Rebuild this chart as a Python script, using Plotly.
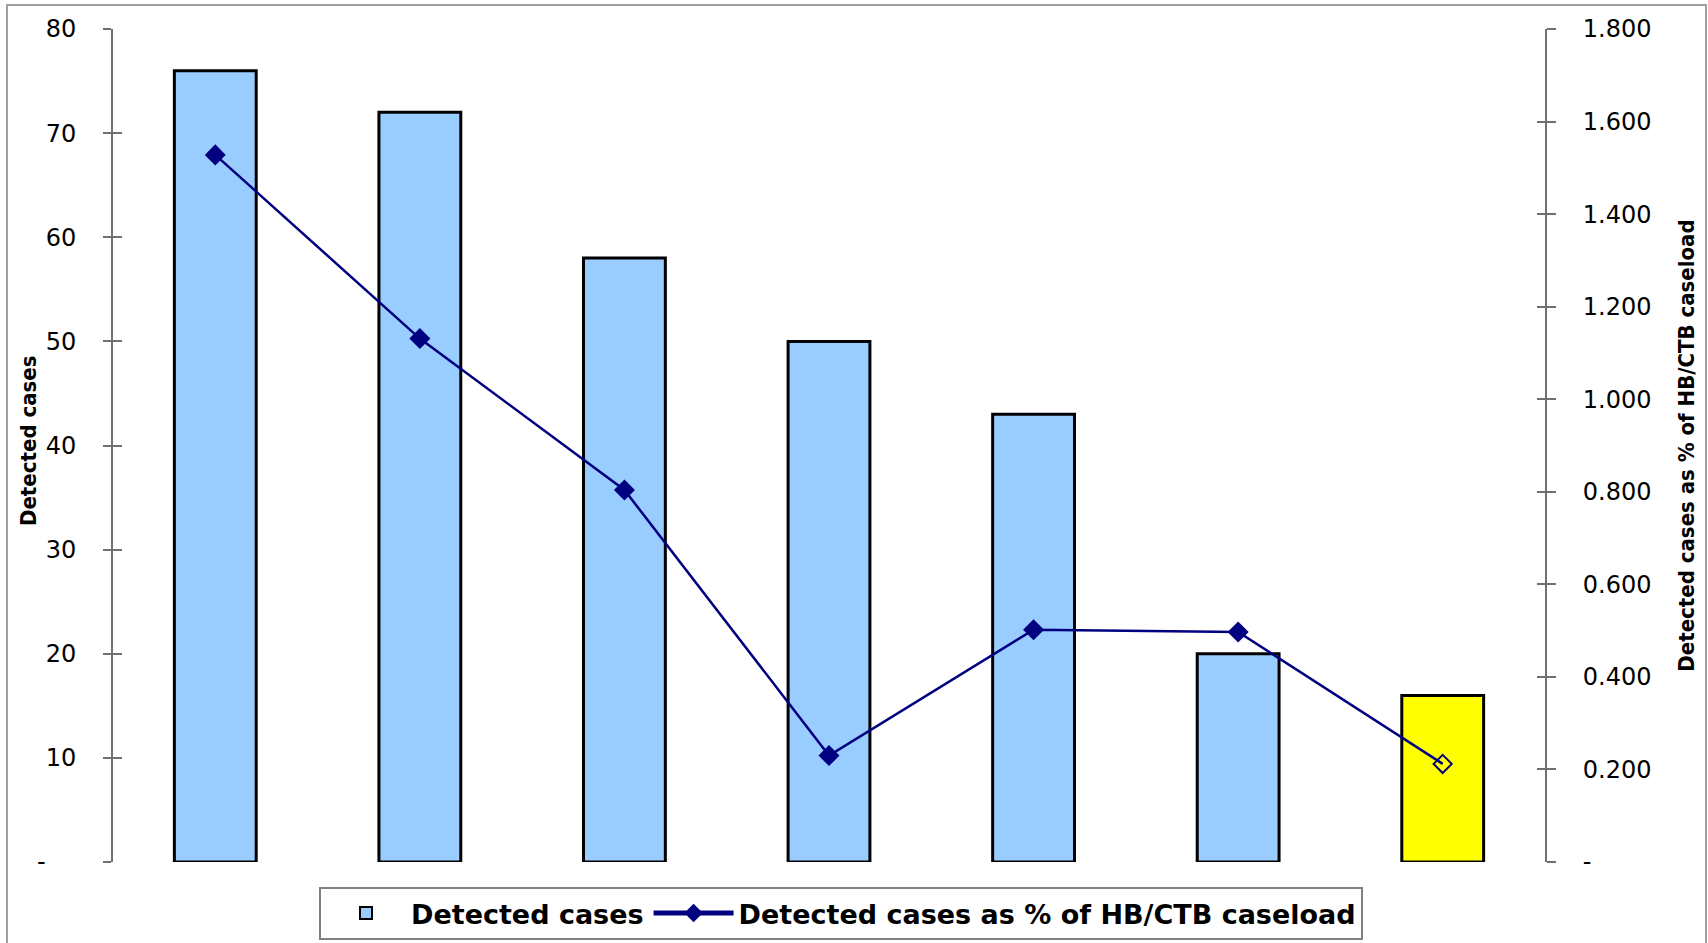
import plotly.graph_objects as go

# ---- data ----
categories = ["1", "2", "3", "4", "5", "6", "7"]
detected_cases = [76, 72, 58, 50, 43, 20, 16]
pct_caseload = [1.528, 1.131, 0.804, 0.230, 0.502, 0.497, 0.212]
bar_colors = ["#99CCFF"] * 6 + ["#FFFF00"]
marker_symbols = ["diamond"] * 6 + ["diamond-open"]

left_tickvals = [0, 10, 20, 30, 40, 50, 60, 70, 80]
left_ticktext = ["-\u00a0\u00a0\u00a0\u00a0", "10", "20", "30", "40", "50", "60", "70", "80"]
right_tickvals = [0, 0.2, 0.4, 0.6, 0.8, 1.0, 1.2, 1.4, 1.6, 1.8]
right_ticktext = ["-", "0.200", "0.400", "0.600", "0.800", "1.000", "1.200", "1.400", "1.600", "1.800"]

series_names = ["Detected cases", "Detected cases as % of HB/CTB caseload"]
left_title = "Detected cases"
right_title = "Detected cases as % of HB/CTB caseload"

NAVY = "#000080"
AXIS_GRAY = "#707070"
TICK_FONT = dict(family="DejaVu Sans, Verdana, sans-serif", size=24, color="black")
TITLE_FONT = dict(family="DejaVu Sans Condensed, Liberation Sans Narrow, Arial Narrow, sans-serif",
                  size=22, color="black", weight="bold")

fig = go.Figure()

fig.add_trace(go.Bar(
    x=categories, y=detected_cases, name=series_names[0],
    marker=dict(color=bar_colors, line=dict(color="black", width=3)),
    yaxis="y", hoverinfo="y",
))

fig.add_trace(go.Scatter(
    x=categories, y=pct_caseload, name=series_names[1],
    mode="lines+markers", yaxis="y2",
    line=dict(color=NAVY, width=2.5),
    marker=dict(symbol=marker_symbols, size=14, color=NAVY, line=dict(color=NAVY, width=2)),
))

# invisible helper traces so the overlay axes (inner half of cross ticks) are drawn
fig.add_trace(go.Scatter(x=categories, y=detected_cases, yaxis="y3", mode="markers",
                         marker=dict(opacity=0), showlegend=False, hoverinfo="skip"))
fig.add_trace(go.Scatter(x=categories, y=pct_caseload, yaxis="y4", mode="markers",
                         marker=dict(opacity=0), showlegend=False, hoverinfo="skip"))

W, H = 1708, 943
L, R, T, B = 113, 163, 29, 81
pw, ph = W - L - R, H - T - B

fig.update_layout(
    width=W, height=H,
    margin=dict(l=L, r=R, t=T, b=B, pad=0, autoexpand=False),
    paper_bgcolor="white", plot_bgcolor="white",
    bargap=0.6,
    showlegend=True,
    legend=dict(
        orientation="h", x=(841 - L) / pw, xanchor="center",
        y=-(887 - (T + ph)) / ph, yanchor="top",
        bordercolor="#808080", borderwidth=2, bgcolor="white",
        font=dict(family="DejaVu Sans, Verdana, sans-serif", size=27, color="black", weight="bold"),
        itemsizing="constant", itemwidth=80,
    ),
    xaxis=dict(
        type="category", showticklabels=False, ticks="", showline=False,
        showgrid=False, zeroline=False, range=[-0.5, 6.5],
    ),
    yaxis=dict(
        range=[0, 80], tickvals=left_tickvals, ticktext=left_ticktext,
        ticks="outside", ticklen=8, tickwidth=2, tickcolor=AXIS_GRAY,
        showline=True, linecolor=AXIS_GRAY, linewidth=2,
        showgrid=False, zeroline=False,
        tickfont=TICK_FONT, ticklabelstandoff=22,
    ),
    yaxis2=dict(
        range=[0, 1.8], tickvals=right_tickvals, ticktext=right_ticktext,
        overlaying="y", side="right", anchor="x",
        ticks="outside", ticklen=9, tickwidth=2, tickcolor=AXIS_GRAY,
        showline=True, linecolor=AXIS_GRAY, linewidth=2,
        showgrid=False, zeroline=False,
        tickfont=TICK_FONT, ticklabelstandoff=22,
        title=dict(text=right_title, font=TITLE_FONT, standoff=28),
    ),
    yaxis3=dict(
        range=[0, 80], tickvals=left_tickvals, overlaying="y", side="left", anchor="x",
        ticks="inside", ticklen=9, tickwidth=2, tickcolor=AXIS_GRAY,
        showticklabels=False, showline=False, showgrid=False, zeroline=False,
    ),
    yaxis4=dict(
        range=[0, 1.8], tickvals=right_tickvals, overlaying="y", side="right", anchor="x",
        ticks="inside", ticklen=8, tickwidth=2, tickcolor=AXIS_GRAY,
        showticklabels=False, showline=False, showgrid=False, zeroline=False,
    ),
    annotations=[dict(
        text=left_title, textangle=-90, font=TITLE_FONT, showarrow=False,
        xref="paper", yref="paper", x=(28 - L) / pw, xanchor="center",
        y=1 - (441 - T) / ph, yanchor="middle",
    )],
    shapes=[dict(
        type="rect", xref="paper", yref="paper",
        x0=(7 - L) / pw, x1=(1706 - L) / pw,
        y0=-(950 - (T + ph)) / ph, y1=1 + (T - 5) / ph,
        line=dict(color="#A0A0A0", width=2), fillcolor="rgba(0,0,0,0)", layer="below",
    )],
)

fig.write_html("out.html")
